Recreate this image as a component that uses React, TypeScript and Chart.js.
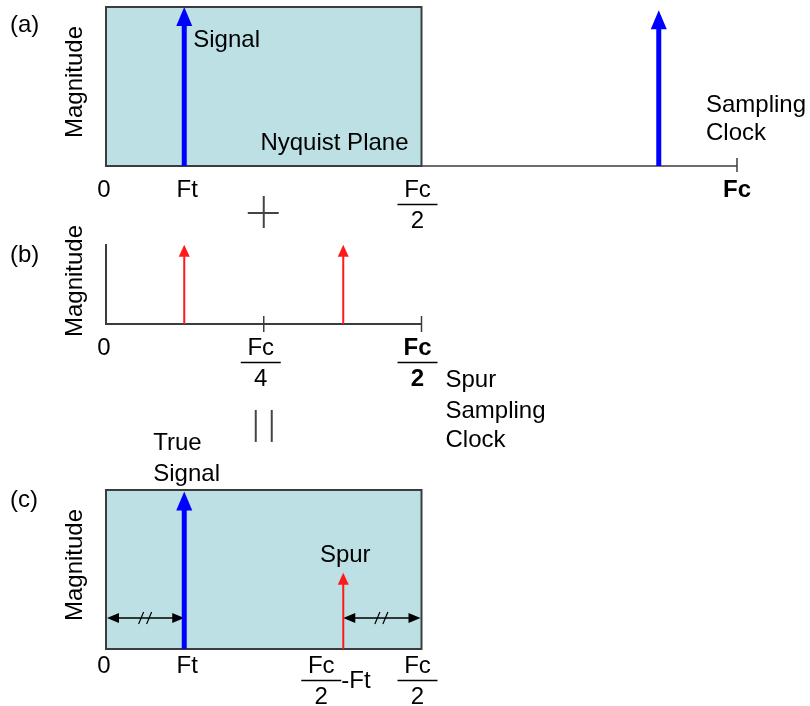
import React, { useEffect, useRef } from "react";
import { Chart, registerables } from "chart.js";

Chart.register(...registerables);

const W = 810;
const H = 706;
const FONT = '"Liberation Sans", Arial, Helvetica, sans-serif';

// Frequencies are in units of the sampling clock Fc, magnitudes are relative.
const FT = 0.124;
const nyquistZone = [0, 0.5];
const clockFreq = 1;
const spurClockTicks = [0.25, 0.5];

const signalAFreqs = [FT, 1 - FT];
const signalAMags = [1.0, 0.98];

const spurBFreqs = [FT, 0.5 - FT];
const spurBMags = [0.99, 0.99];

const signalCFreqs = [FT];
const signalCMags = [0.99];
const spurCFreqs = [0.5 - FT];
const spurCMags = [0.48];
const markerLevel = 0.195;

const BLUE = "#0000ff";
const RED = "#ff1a1a";
const ZONE_FILL = "#bce0e4";
const EDGE = "#3c3c3c";

function arrowSets(freqs: number[], mags: number[], color: string, width: number, headW: number, headH: number) {
  return freqs.map((f, i) => ({
    data: [
      { x: f, y: 0 },
      { x: f, y: mags[i] },
    ],
    showLine: true,
    borderColor: color,
    backgroundColor: color,
    borderWidth: width,
    pointRadius: 0,
    clip: false,
    arrowHead: { w: headW, h: headH, color },
  }));
}

const arrowHeadPlugin = {
  id: "arrowHead",
  beforeDatasetDraw(chart: any, args: any) {
    const ds = chart.data.datasets[args.index];
    if (!ds.arrowHead) return;
    const top = args.meta.data[1];
    const ctx = chart.ctx;
    ctx.save();
    ctx.beginPath();
    ctx.rect(0, top.y + ds.arrowHead.h * 0.6, W, H);
    ctx.clip();
  },
  afterDatasetDraw(chart: any, args: any) {
    const ds = chart.data.datasets[args.index];
    if (!ds.arrowHead) return;
    const ctx = chart.ctx;
    ctx.restore();
    const top = args.meta.data[1];
    const { w, h, color } = ds.arrowHead;
    ctx.save();
    ctx.fillStyle = color;
    ctx.beginPath();
    ctx.moveTo(top.x, top.y);
    ctx.lineTo(top.x + w / 2, top.y + h);
    ctx.lineTo(top.x - w / 2, top.y + h);
    ctx.closePath();
    ctx.fill();
    ctx.restore();
  },
};

function text(ctx: CanvasRenderingContext2D, s: string, x: number, y: number, align: CanvasTextAlign = "left", bold = false) {
  ctx.save();
  ctx.font = `${bold ? "bold " : ""}24px ${FONT}`;
  ctx.fillStyle = "#000";
  ctx.textAlign = align;
  ctx.textBaseline = "alphabetic";
  ctx.fillText(s, x, y);
  ctx.restore();
}

function line(ctx: CanvasRenderingContext2D, x1: number, y1: number, x2: number, y2: number, w: number, color: string) {
  ctx.save();
  ctx.strokeStyle = color;
  ctx.lineWidth = w;
  ctx.beginPath();
  ctx.moveTo(x1, y1);
  ctx.lineTo(x2, y2);
  ctx.stroke();
  ctx.restore();
}

function frac(ctx: CanvasRenderingContext2D, num: string, den: string, cx: number, y: number, bold = false) {
  text(ctx, num, cx, y, "center", bold);
  line(ctx, cx - 20, y + 7.5, cx + 20, y + 7.5, 1.5, "#000");
  text(ctx, den, cx, y + 31, "center", bold);
}

function vtext(ctx: CanvasRenderingContext2D, s: string, x: number, cy: number) {
  ctx.save();
  ctx.translate(x, cy);
  ctx.rotate(-Math.PI / 2);
  ctx.font = `24px ${FONT}`;
  ctx.fillStyle = "#000";
  ctx.textAlign = "center";
  ctx.textBaseline = "alphabetic";
  ctx.fillText(s, 0, 0);
  ctx.restore();
}

function zone(chart: any) {
  const { ctx, scales } = chart;
  const x0 = scales.x.getPixelForValue(nyquistZone[0]);
  const x1 = scales.x.getPixelForValue(nyquistZone[1]);
  const yt = scales.y.getPixelForValue(1);
  const yb = scales.y.getPixelForValue(0);
  ctx.save();
  ctx.fillStyle = ZONE_FILL;
  ctx.fillRect(x0, yt, x1 - x0, yb - yt);
  ctx.strokeStyle = EDGE;
  ctx.lineWidth = 2;
  ctx.strokeRect(x0, yt, x1 - x0, yb - yt);
  ctx.restore();
}

function measure(ctx: CanvasRenderingContext2D, xa: number, xb: number, y: number) {
  line(ctx, xa + 4, y, xb - 4, y, 1.5, "#000");
  ctx.save();
  ctx.fillStyle = "#000";
  ctx.beginPath();
  ctx.moveTo(xa, y);
  ctx.lineTo(xa + 12, y - 5);
  ctx.lineTo(xa + 12, y + 5);
  ctx.closePath();
  ctx.fill();
  ctx.beginPath();
  ctx.moveTo(xb, y);
  ctx.lineTo(xb - 12, y - 5);
  ctx.lineTo(xb - 12, y + 5);
  ctx.closePath();
  ctx.fill();
  ctx.restore();
  const cx = (xa + xb) / 2;
  line(ctx, cx - 7, y + 6, cx - 2, y - 6, 1.2, "#000");
  line(ctx, cx + 1, y + 6, cx + 6, y - 6, 1.2, "#000");
}

function baseOptions(padding: any) {
  return {
    responsive: false,
    animation: false,
    devicePixelRatio: 1,
    events: [],
    layout: { padding },
    plugins: {
      legend: { display: false },
      tooltip: { enabled: false },
      title: { display: false },
    },
    scales: {
      x: { type: "linear", min: 0, max: 1, display: false },
      y: { type: "linear", min: 0, max: 1, display: false },
    },
  };
}

function configA(): any {
  return {
    type: "scatter",
    data: { datasets: arrowSets(signalAFreqs, signalAMags, BLUE, 5, 16, 19) },
    options: baseOptions({ left: 106, right: W - 737, top: 7, bottom: H - 166 }),
    plugins: [
      arrowHeadPlugin,
      {
        id: "panelA",
        beforeDatasetsDraw(chart: any) {
          const { ctx, scales } = chart;
          const X = (v: number) => scales.x.getPixelForValue(v);
          const y0 = scales.y.getPixelForValue(0);
          line(ctx, X(nyquistZone[1]), y0, X(clockFreq), y0, 1.5, EDGE);
          line(ctx, X(clockFreq), y0 - 8, X(clockFreq), y0 + 6, 1.5, EDGE);
          zone(chart);
        },
        afterDatasetsDraw(chart: any) {
          const { ctx, scales } = chart;
          const X = (v: number) => scales.x.getPixelForValue(v);
          text(ctx, "(a)", 10, 32);
          vtext(ctx, "Magnitude", 82, 82);
          text(ctx, "Signal", X(FT) + 9, 47);
          text(ctx, "Nyquist Plane", X(0.5) - 13, 150, "right");
          text(ctx, "Sampling", X(clockFreq) - 31, 112);
          text(ctx, "Clock", X(clockFreq) - 31, 140);
          text(ctx, "0", X(0) - 2, 197, "center");
          text(ctx, "Ft", X(FT) + 3, 197, "center");
          frac(ctx, "Fc", "2", X(0.5) - 4, 197);
          text(ctx, "Fc", X(clockFreq), 197, "center", true);
          const px = X(0.25);
          line(ctx, px, 196, px, 228, 2, "#444");
          line(ctx, px - 16, 213, px + 15, 213, 2, "#444");
        },
      },
    ],
  };
}

function configB(): any {
  return {
    type: "scatter",
    data: { datasets: arrowSets(spurBFreqs, spurBMags, RED, 2, 11, 12) },
    options: baseOptions({ left: 106, right: W - 737, top: 244, bottom: H - 324 }),
    plugins: [
      arrowHeadPlugin,
      {
        id: "panelB",
        beforeDatasetsDraw(chart: any) {
          const { ctx, scales } = chart;
          const X = (v: number) => scales.x.getPixelForValue(v);
          const y0 = scales.y.getPixelForValue(0);
          const y1 = scales.y.getPixelForValue(1);
          line(ctx, X(0), y1, X(0), y0 + 1, 2, EDGE);
          line(ctx, X(0), y0, X(0.5), y0, 2, EDGE);
          spurClockTicks.forEach((t) => line(ctx, X(t), y0 - 8, X(t), y0 + 8, 1.5, EDGE));
        },
        afterDatasetsDraw(chart: any) {
          const { ctx, scales } = chart;
          const X = (v: number) => scales.x.getPixelForValue(v);
          text(ctx, "(b)", 10, 262);
          vtext(ctx, "Magnitude", 82, 281);
          text(ctx, "0", X(0) - 2, 355, "center");
          frac(ctx, "Fc", "4", X(0.25) - 3, 355);
          frac(ctx, "Fc", "2", X(0.5) - 4, 355, true);
          text(ctx, "Spur", X(0.5) + 24, 387);
          text(ctx, "Sampling", X(0.5) + 24, 418);
          text(ctx, "Clock", X(0.5) + 24, 447);
          const px = X(0.25);
          line(ctx, px - 8, 410, px - 8, 442, 2, "#444");
          line(ctx, px + 8, 410, px + 8, 442, 2, "#444");
        },
      },
    ],
  };
}

function configC(): any {
  return {
    type: "scatter",
    data: {
      datasets: [
        ...arrowSets(signalCFreqs, signalCMags, BLUE, 5, 16, 19),
        ...arrowSets(spurCFreqs, spurCMags, RED, 2, 11, 12),
      ],
    },
    options: baseOptions({ left: 106, right: W - 737, top: 490, bottom: H - 649 }),
    plugins: [
      arrowHeadPlugin,
      {
        id: "panelC",
        beforeDatasetsDraw(chart: any) {
          const { ctx, scales } = chart;
          const X = (v: number) => scales.x.getPixelForValue(v);
          zone(chart);
          const ym = scales.y.getPixelForValue(markerLevel);
          measure(ctx, X(0) + 1, X(signalCFreqs[0]), ym);
          measure(ctx, X(spurCFreqs[0]), X(0.5) - 1, ym);
        },
        afterDatasetsDraw(chart: any) {
          const { ctx, scales } = chart;
          const X = (v: number) => scales.x.getPixelForValue(v);
          text(ctx, "True", X(FT) - 31, 450);
          text(ctx, "Signal", X(FT) - 31, 481);
          text(ctx, "(c)", 10, 507);
          vtext(ctx, "Magnitude", 82, 565);
          text(ctx, "Spur", X(spurCFreqs[0]) + 2, 562, "center");
          text(ctx, "0", X(0) - 2, 673, "center");
          text(ctx, "Ft", X(FT) + 3, 673, "center");
          frac(ctx, "Fc", "2", X(spurCFreqs[0]) - 22, 673);
          text(ctx, "-Ft", X(spurCFreqs[0]) - 2, 688);
          frac(ctx, "Fc", "2", X(0.5) - 4, 673);
        },
      },
    ],
  };
}

function Panel({ make }: { make: () => any }) {
  const ref = useRef<HTMLCanvasElement>(null);
  useEffect(() => {
    const chart = new Chart(ref.current as HTMLCanvasElement, make());
    return () => chart.destroy();
  }, [make]);
  return (
    <canvas
      ref={ref}
      width={W}
      height={H}
      style={{ position: "absolute", left: 0, top: 0, width: W, height: H }}
    />
  );
}

export default function App() {
  return (
    <div style={{ position: "fixed", left: 0, top: 0, width: W, height: H, background: "#fff", overflow: "hidden" }}>
      <Panel make={configA} />
      <Panel make={configB} />
      <Panel make={configC} />
    </div>
  );
}
